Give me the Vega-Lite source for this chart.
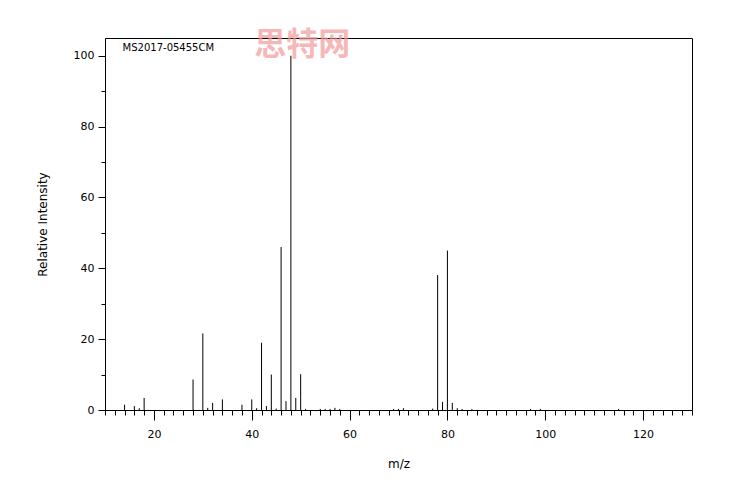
{
  "$schema": "https://vega.github.io/schema/vega-lite/v6.json",
  "autosize": "none",
  "width": 587,
  "height": 372,
  "padding": {"left": 105, "top": 38, "right": 54, "bottom": 90},
  "background": "white",
  "config": {
    "font": "DejaVu Sans",
    "view": {"stroke": "black", "strokeWidth": 1},
    "axis": {"grid": false, "domainColor": "black", "tickColor": "black", "labelColor": "black", "titleColor": "black", "labelFont": "DejaVu Sans", "titleFont": "DejaVu Sans", "titleFontWeight": "normal", "labelFontSize": 11, "titleFontSize": 12}
  },
  "datasets": {
    "peaks": [
      {"mz": 14, "intensity": 1.5},
      {"mz": 16, "intensity": 1.1},
      {"mz": 17, "intensity": 0.5},
      {"mz": 18, "intensity": 3.4},
      {"mz": 28, "intensity": 8.6},
      {"mz": 30, "intensity": 21.6},
      {"mz": 31, "intensity": 0.6},
      {"mz": 32, "intensity": 2.0},
      {"mz": 34, "intensity": 3.0},
      {"mz": 38, "intensity": 1.5},
      {"mz": 40, "intensity": 3.0},
      {"mz": 41, "intensity": 0.5},
      {"mz": 42, "intensity": 19.0},
      {"mz": 43, "intensity": 1.1},
      {"mz": 44, "intensity": 10.0},
      {"mz": 45, "intensity": 0.4},
      {"mz": 46, "intensity": 46.0},
      {"mz": 47, "intensity": 2.5},
      {"mz": 48, "intensity": 100.0},
      {"mz": 49, "intensity": 3.4},
      {"mz": 50, "intensity": 10.1},
      {"mz": 51, "intensity": 0.3},
      {"mz": 54, "intensity": 0.3},
      {"mz": 55, "intensity": 0.3},
      {"mz": 56, "intensity": 0.3},
      {"mz": 57, "intensity": 0.6},
      {"mz": 58, "intensity": 0.3},
      {"mz": 69, "intensity": 0.3},
      {"mz": 70, "intensity": 0.3},
      {"mz": 71, "intensity": 0.5},
      {"mz": 77, "intensity": 0.4},
      {"mz": 78, "intensity": 38.1},
      {"mz": 79, "intensity": 2.3},
      {"mz": 80, "intensity": 45.0},
      {"mz": 81, "intensity": 2.0},
      {"mz": 82, "intensity": 0.5},
      {"mz": 83, "intensity": 0.3},
      {"mz": 85, "intensity": 0.3},
      {"mz": 97, "intensity": 0.3},
      {"mz": 99, "intensity": 0.3},
      {"mz": 115, "intensity": 0.3}
    ],
    "notes": [
      {"mz": 13.6, "intensity": 102.2, "label": "MS2017-05455CM", "kind": "id"},
      {"mz": 50.3, "intensity": 103.0, "label": "思特网", "kind": "wm"}
    ]
  },
  "encoding": {
    "x": {
      "field": "mz", "type": "quantitative",
      "scale": {"domain": [10, 130], "nice": false, "zero": false},
      "axis": {
        "title": "m/z",
        "values": [10,12,14,16,18,20,22,24,26,28,30,32,34,36,38,40,42,44,46,48,50,52,54,56,58,60,62,64,66,68,70,72,74,76,78,80,82,84,86,88,90,92,94,96,98,100,102,104,106,108,110,112,114,116,118,120,122,124,126,128,130],
        "labelExpr": "datum.value % 20 === 0 ? datum.label : ''",
        "labelOverlap": false,
        "labelFlush": false,
        "tickSize": {"condition": {"test": "datum.value % 20 === 0", "value": 10}, "value": 5},
        "labelPadding": 8,
        "titlePadding": 19
      }
    },
    "y": {
      "field": "intensity", "type": "quantitative",
      "scale": {"domain": [0, 105], "nice": false},
      "axis": {
        "title": "Relative Intensity",
        "values": [0,10,20,30,40,50,60,70,80,90,100],
        "labelExpr": "datum.value % 20 === 0 ? datum.label : ''",
        "labelOverlap": false,
        "tickSize": {"condition": {"test": "datum.value % 20 === 0", "value": 7}, "value": 4},
        "labelPadding": 4,
        "titlePadding": 24
      }
    }
  },
  "layer": [
    {
      "data": {"name": "peaks"},
      "mark": {"type": "rule", "color": "black", "strokeWidth": 1},
      "encoding": {
        "y2": {"datum": 0}
      }
    },
    {
      "data": {"name": "notes"},
      "transform": [{"filter": "datum.kind === 'id'"}],
      "mark": {"type": "text", "align": "left", "baseline": "middle", "fontSize": 10, "font": "DejaVu Sans", "color": "black"},
      "encoding": {
        "text": {"field": "label"}
      }
    },
    {
      "data": {"name": "notes"},
      "transform": [{"filter": "datum.kind === 'wm'"}],
      "mark": {"type": "text", "align": "center", "baseline": "middle", "fontSize": 32, "fontWeight": "bold", "font": "Noto Sans CJK SC", "color": "#f29a9a", "opacity": 0.7},
      "encoding": {
        "text": {"field": "label"}
      }
    }
  ]
}
